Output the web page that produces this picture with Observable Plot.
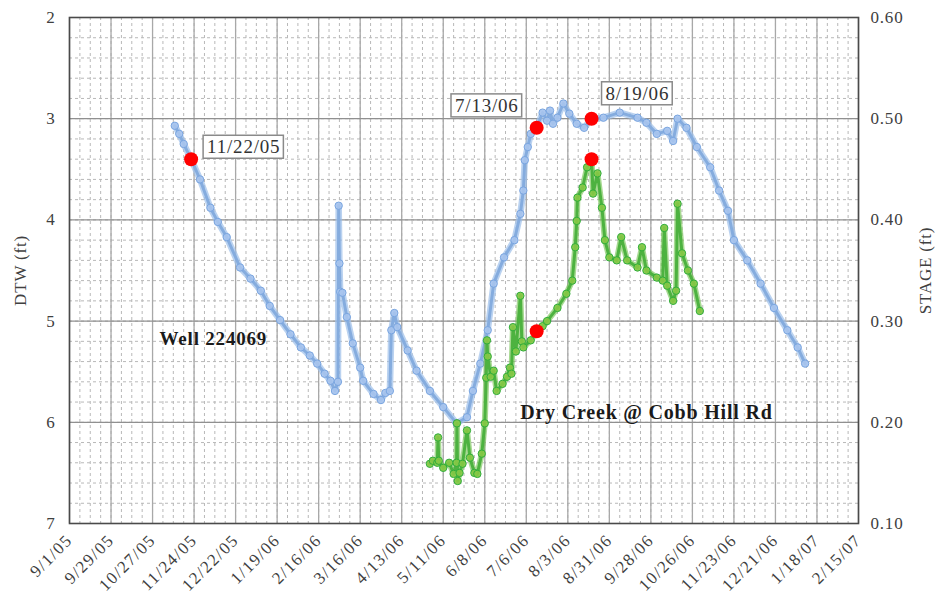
<!DOCTYPE html>
<html>
<head>
<meta charset="utf-8">
<script src="https://cdn.jsdelivr.net/npm/d3@7"></script>
<script src="https://cdn.jsdelivr.net/npm/@observablehq/plot@0.6"></script>
<style>
  body { margin: 0; background: #fff; }
  #chart svg text { letter-spacing: 0.8px; }
  #chart svg g[aria-label="x-axis tick label"] text { letter-spacing: 1.4px; }
</style>
</head>
<body>
<div id="chart"></div>
<script>
// ---- Data ----
// Well 224069 depth to water (ft)
const wellDates = ["2005-11-11","2005-11-14","2005-11-17","2005-11-22","2005-11-28","2005-12-05","2005-12-10","2005-12-16","2005-12-25","2006-01-01","2006-01-08","2006-01-14","2006-01-21","2006-01-28","2006-02-04","2006-02-10","2006-02-15","2006-02-20","2006-02-24","2006-02-27","2006-03-01T00:00","2006-03-01T12:00","2006-03-02T00:00","2006-03-02T12:00","2006-03-04","2006-03-07","2006-03-11","2006-03-16","2006-03-18","2006-03-25","2006-03-30","2006-04-02","2006-04-05","2006-04-06","2006-04-08","2006-04-10","2006-04-17","2006-04-23","2006-05-02","2006-05-11","2006-05-20","2006-05-27","2006-05-31","2006-06-05","2006-06-10","2006-06-14","2006-06-21","2006-06-28","2006-07-02","2006-07-04","2006-07-05","2006-07-07","2006-07-09","2006-07-13","2006-07-17","2006-07-20","2006-07-22","2006-07-24","2006-07-27","2006-07-31","2006-08-04","2006-08-09","2006-08-14","2006-08-19","2006-08-27","2006-09-07","2006-09-19","2006-09-25","2006-10-02","2006-10-09","2006-10-13","2006-10-16","2006-10-22","2006-10-29","2006-11-07","2006-11-13","2006-11-19","2006-11-23","2006-12-02","2006-12-11","2006-12-20","2006-12-29","2007-01-05","2007-01-10"];
const wellDTW = [3.07,3.15,3.25,3.40,3.60,3.88,4.02,4.17,4.47,4.58,4.70,4.85,4.99,5.13,5.26,5.34,5.42,5.52,5.59,5.69,5.60,3.86,4.43,4.71,4.72,4.96,5.22,5.46,5.59,5.72,5.78,5.71,5.69,5.09,4.92,5.06,5.29,5.49,5.69,5.85,6.01,5.95,5.69,5.42,5.09,4.63,4.37,4.20,3.94,3.71,3.41,3.28,3.15,3.09,2.94,3.02,2.92,3.05,2.99,2.85,2.95,3.05,3.09,3.00,2.99,2.94,2.99,3.04,3.15,3.12,3.22,3.00,3.09,3.28,3.48,3.71,3.91,4.20,4.40,4.63,4.87,5.09,5.26,5.42];

// Dry Creek @ Cobb Hill Rd stage (ft)
const creekDates = ["2006-05-02","2006-05-04","2006-05-07T00:00","2006-05-07T12:00","2006-05-08","2006-05-11","2006-05-15","2006-05-18","2006-05-20T00:00","2006-05-20T06:00","2006-05-20T18:00","2006-05-22","2006-05-24","2006-05-27","2006-05-29","2006-06-01","2006-06-03","2006-06-06","2006-06-08","2006-06-09T00:00","2006-06-09T12:00","2006-06-10","2006-06-12","2006-06-14","2006-06-16","2006-06-20","2006-06-23","2006-06-25","2006-06-26","2006-06-27","2006-06-29","2006-07-02","2006-07-03","2006-07-04","2006-07-09","2006-07-13","2006-07-17","2006-07-20","2006-07-27","2006-08-02","2006-08-06","2006-08-08","2006-08-09T00:00","2006-08-09T12:00","2006-08-13","2006-08-16","2006-08-19","2006-08-20","2006-08-23","2006-08-26","2006-08-28","2006-08-31","2006-09-05","2006-09-08","2006-09-12","2006-09-19","2006-09-22","2006-09-25","2006-10-02","2006-10-06","2006-10-07","2006-10-09","2006-10-13","2006-10-15","2006-10-16","2006-10-19","2006-10-23","2006-10-27","2006-10-31"];
const creekStage = [0.159,0.162,0.160,0.185,0.162,0.155,0.160,0.149,0.160,0.199,0.142,0.150,0.159,0.192,0.165,0.150,0.149,0.169,0.199,0.244,0.281,0.265,0.245,0.251,0.231,0.238,0.245,0.254,0.248,0.294,0.270,0.325,0.280,0.274,0.281,0.289,0.295,0.300,0.313,0.327,0.340,0.373,0.399,0.422,0.432,0.452,0.460,0.426,0.446,0.412,0.380,0.363,0.360,0.383,0.360,0.353,0.373,0.350,0.343,0.340,0.392,0.335,0.320,0.330,0.416,0.367,0.350,0.337,0.310];

// Highlighted dates
const markDates = ["2005-11-22","2006-07-13","2006-08-19"];
const markLabels = ["11/22/05","7/13/06","8/19/06"];
const markWellDTW = [3.40, 3.09, 3.00];
const markCreekDates = ["2006-07-13","2006-08-19"];
const markCreekStage = [0.29, 0.46];

// Axis ticks
const xTickDates = ["2005-09-01","2005-09-29","2005-10-27","2005-11-24","2005-12-22","2006-01-19","2006-02-16","2006-03-16","2006-04-13","2006-05-11","2006-06-08","2006-07-06","2006-08-03","2006-08-31","2006-09-28","2006-10-26","2006-11-23","2006-12-21","2007-01-18","2007-02-15"];
const dtwTicks = [2,3,4,5,6,7];
const stageTicks = [0.10,0.20,0.30,0.40,0.50,0.60];

const seriesLabels = [
  {text: "Well 224069", date: "2005-12-07", dtw: 5.18, size: 19},
  {text: "Dry Creek @ Cobb Hill Rd", date: "2006-09-25", dtw: 5.90, size: 20}
];

// ---- Build tables ----
const P = d3.utcParse("%Y-%m-%d");
const parse = s => s.length > 10 ? new Date(s + "Z") : P(s);
const well = wellDates.map((d, i) => ({date: parse(d), dtw: wellDTW[i]}));
const stageToDTW = s => 8 - 10 * s; // 0.60 -> 2, 0.10 -> 7
const creek = creekDates.map((d, i) => ({date: parse(d), dtw: stageToDTW(creekStage[i])}));
const redWell = markDates.map((d, i) => ({date: parse(d), dtw: markWellDTW[i], label: markLabels[i]}));
const redCreek = markCreekDates.map((d, i) => ({date: parse(d), dtw: stageToDTW(markCreekStage[i])}));
const xTicks = xTickDates.map(parse);
const x0 = xTicks[0], x1 = xTicks[xTicks.length - 1];
const weekly = d3.utcDay.range(x0, d3.utcDay.offset(x1, 1), 7);
const minorY = d3.range(2, 7.001, 0.2);

const calloutOffsets = [[16, -12, "start"], [-18, -22, "end"], [14, -25, "start"]];

const chart = Plot.plot({
  width: 939,
  height: 605,
  marginLeft: 69,
  marginRight: 81,
  marginTop: 17,
  marginBottom: 82,
  style: {fontFamily: "'Liberation Serif', 'DejaVu Serif', serif", fontSize: "17px", color: "#404040", background: "#fff"},
  x: {type: "utc", domain: [x0, x1]},
  y: {domain: [2, 7], reverse: true},
  marks: [
    Plot.ruleX(weekly, {stroke: "#b8b8b8", strokeDasharray: "3,3", strokeWidth: 1}),
    Plot.ruleY(minorY, {stroke: "#b8b8b8", strokeDasharray: "3,3", strokeWidth: 1}),
    Plot.ruleX(xTicks, {stroke: "#a8a8a8", strokeWidth: 1.3}),
    Plot.ruleY(dtwTicks, {stroke: "#909090", strokeWidth: 1.2}),
    Plot.axisX({ticks: xTicks, tickSize: 0, tickPadding: 14, tickRotate: -45,
      tickFormat: d3.utcFormat("%-m/%-d/%y"), label: null, fontSize: 17}),
    Plot.axisY({anchor: "left", ticks: dtwTicks, tickSize: 0, tickPadding: 14,
      tickFormat: d => String(d),
      label: "DTW (ft)", labelAnchor: "center", labelArrow: "none", labelOffset: 56}),
    Plot.axisY({anchor: "right", ticks: stageTicks.map(stageToDTW), tickSize: 0, tickPadding: 12,
      tickFormat: d => ((8 - d) / 10).toFixed(2),
      label: "STAGE (ft)", labelAnchor: "center", labelArrow: "none", labelOffset: 72}),
    Plot.frame({stroke: "#4a4a4a", strokeWidth: 1.6}),
    // Well series
    Plot.line(well, {x: "date", y: "dtw", stroke: "#4f81c4", strokeWidth: 3}),
    Plot.line(well, {x: "date", y: "dtw", stroke: "#9dbfea", strokeWidth: 6.5, strokeOpacity: 0.7}),
    Plot.dot(well, {x: "date", y: "dtw", r: 3.7, fill: "#a9c6ee", fillOpacity: 0.85, stroke: "#79a5e0", strokeWidth: 1}),
    // Creek series
    Plot.line(creek, {x: "date", y: "dtw", stroke: "#1e9e34", strokeWidth: 3}),
    Plot.line(creek, {x: "date", y: "dtw", stroke: "#6cc04a", strokeWidth: 6, strokeOpacity: 0.6}),
    Plot.dot(creek, {x: "date", y: "dtw", r: 3.7, fill: "#86c846", fillOpacity: 0.9, stroke: "#2fae3c", strokeWidth: 1}),
    // Highlighted points
    Plot.dot(redWell, {x: "date", y: "dtw", r: 7, fill: "#ff0000"}),
    Plot.dot(redCreek, {x: "date", y: "dtw", r: 7, fill: "#ff0000"}),
    ...redWell.map((d, i) => Plot.text([d], {x: "date", y: "dtw", text: "label",
      dx: calloutOffsets[i][0], dy: calloutOffsets[i][1], textAnchor: calloutOffsets[i][2],
      fontSize: 19, fill: "#333", ariaDescription: "callout"})),
    ...seriesLabels.map(s => Plot.text([s], {x: d => parse(d.date), y: "dtw", text: "text",
      fontSize: s.size, fontWeight: "bold", fill: "#1a1a1a"}))
  ]
});

document.getElementById("chart").appendChild(chart);

// boxes behind the date callouts
chart.querySelectorAll('g[aria-description="callout"] text').forEach(t => {
  const b = t.getBBox();
  const r = document.createElementNS("http://www.w3.org/2000/svg", "rect");
  r.setAttribute("x", b.x - 4);
  r.setAttribute("y", b.y - 1);
  r.setAttribute("width", b.width + 7);
  r.setAttribute("height", b.height + 2);
  r.setAttribute("fill", "#fff");
  r.setAttribute("stroke", "#8a8a8a");
  r.setAttribute("stroke-width", "1.5");
  if (t.getAttribute("transform")) r.setAttribute("transform", t.getAttribute("transform"));
  t.parentNode.insertBefore(r, t);
});
</script>
</body>
</html>
